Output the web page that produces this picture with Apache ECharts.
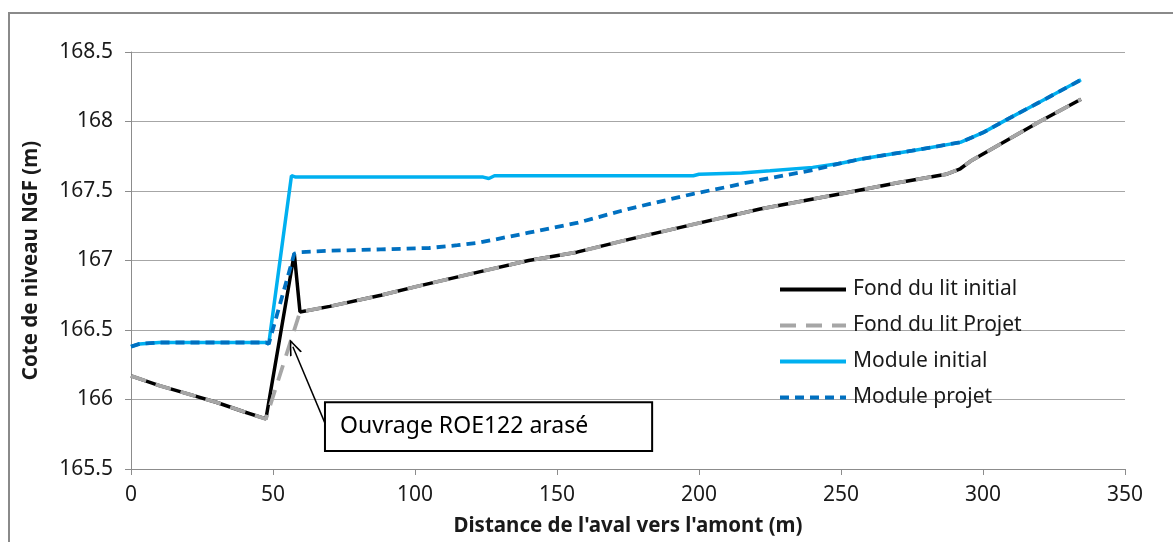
<!DOCTYPE html>
<html>
<head>
<meta charset="utf-8">
<script src="https://cdn.jsdelivr.net/npm/echarts@6/dist/echarts.min.js"></script>
<style>html,body{margin:0;padding:0;background:#fff}#c{width:1173px;height:542px}</style>
</head>
<body>
<div id="c"></div>
<script>
// ---- data ----
const seriesNames = ['Fond du lit initial', 'Fond du lit Projet', 'Module initial', 'Module projet'];
const fondInitial = [[0,166.17],[10,166.10],[20,166.04],[30,165.98],[40,165.91],[47.5,165.86],[57.5,167.05],[59.5,166.63],[70,166.67],[88,166.75],[100,166.81],[123,166.92],[140,167.00],[157,167.06],[175,167.15],[198,167.26],[221.5,167.37],[250,167.48],[270,167.56],[287,167.62],[292,167.66],[296,167.72],[308,167.86],[320,168.00],[334.5,168.16]];
const fondProjet = [[0,166.17],[10,166.10],[20,166.04],[30,165.98],[40,165.91],[47.5,165.86],[59.5,166.63],[70,166.67],[88,166.75],[100,166.81],[123,166.92],[140,167.00],[157,167.06],[175,167.15],[198,167.26],[221.5,167.37],[250,167.48],[270,167.56],[287,167.62],[292,167.66],[296,167.72],[308,167.86],[320,168.00],[334.5,168.16]];
const moduleInitial = [[0,166.38],[3,166.40],[10,166.41],[30,166.41],[47.5,166.41],[48.5,166.40],[56.5,167.61],[58,167.60],[100,167.60],[124,167.60],[126,167.59],[128,167.61],[170,167.61],[198,167.61],[200,167.62],[215,167.63],[225,167.645],[240,167.67],[250,167.70],[257,167.73],[275,167.79],[292,167.85],[300,167.92],[308,168.01],[320,168.14],[334.5,168.30]];
const moduleProjet = [[0,166.38],[3,166.40],[10,166.41],[30,166.41],[47.5,166.41],[48.5,166.40],[57.5,167.05],[60,167.06],[70,167.07],[88,167.08],[105,167.09],[115,167.11],[123,167.13],[140,167.20],[157,167.27],[175,167.37],[198,167.48],[210,167.53],[221.5,167.58],[240,167.65],[250,167.70],[257,167.73],[275,167.79],[292,167.85],[300,167.92],[308,168.01],[320,168.14],[334.5,168.30]];
const xTicks = {min: 0, max: 350, interval: 50};
const yTicks = {min: 165.5, max: 168.5, interval: 0.5};
const annotationText = 'Ouvrage ROE122 arasé';
const annotationBox = [[68.3, 165.98], [183.5, 165.63]];
const annotationArrow = [[68.3, 165.83], [57, 166.38]];

// ---- chart ----
const FONT = '"Noto Sans", sans-serif';
const chart = echarts.init(document.getElementById('c'), null, {renderer: 'canvas'});
const labelColor = '#1a1a1a';
chart.setOption({
  animation: false,
  backgroundColor: '#fff',
  textStyle: {fontFamily: FONT},
  graphic: [{
    type: 'rect', shape: {x: 9, y: 13, width: 1200, height: 600},
    style: {fill: null, stroke: '#8a8a8a', lineWidth: 2}, z: -1, silent: true
  }],
  grid: {left: 131, right: 48, top: 52, bottom: 73, containLabel: false, outerBoundsMode: 'none'},
  xAxis: {
    type: 'value', min: xTicks.min, max: xTicks.max, interval: xTicks.interval,
    name: "Distance de l'aval vers l'amont (m)", nameLocation: 'middle', nameGap: 47,
    nameTextStyle: {fontFamily: FONT, fontWeight: 'bold', fontSize: 20.5, color: labelColor},
    axisLine: {show: true, onZero: false, lineStyle: {color: '#8c8c8c', width: 1}},
    axisTick: {show: true, length: 6, lineStyle: {color: '#8c8c8c'}},
    axisLabel: {fontFamily: FONT, fontSize: 21, color: labelColor, margin: 16},
    splitLine: {show: false}
  },
  yAxis: {
    type: 'value', min: yTicks.min, max: yTicks.max, interval: yTicks.interval,
    name: 'Cote de niveau NGF (m)', nameLocation: 'middle', nameGap: 89,
    nameTextStyle: {fontFamily: FONT, fontWeight: 'bold', fontSize: 20.5, color: labelColor},
    axisLine: {show: true, lineStyle: {color: '#8c8c8c', width: 1}},
    axisTick: {show: true, length: 6, lineStyle: {color: '#8c8c8c'}},
    axisLabel: {fontFamily: FONT, fontSize: 21, color: labelColor, margin: 18},
    splitLine: {show: true, lineStyle: {color: '#a6a6a6', width: 1}}
  },
  legend: {
    orient: 'vertical', left: 778, top: 279, padding: 0, itemWidth: 66, itemHeight: 14, itemGap: 15,
    itemStyle: {opacity: 0},
    lineStyle: {width: 4},
    textStyle: {fontFamily: FONT, fontSize: 21, color: labelColor, padding: [0,0,0,2]},
    data: seriesNames
  },
  series: [
    {name: seriesNames[0], type: 'line', data: fondInitial, symbol: 'none', showSymbol: false,
     lineStyle: {color: '#000', width: 3.5}, itemStyle: {color: '#000'}, z: 2},
    {name: seriesNames[1], type: 'line', data: fondProjet, symbol: 'none', showSymbol: false,
     lineStyle: {color: '#a6a6a6', width: 3.8, type: [16, 10]}, itemStyle: {color: '#a6a6a6'}, z: 3},
    {name: seriesNames[2], type: 'line', data: moduleInitial, symbol: 'none', showSymbol: false,
     lineStyle: {color: '#00b0f0', width: 3.5}, itemStyle: {color: '#00b0f0'}, z: 4},
    {name: seriesNames[3], type: 'line', data: moduleProjet, symbol: 'none', showSymbol: false,
     lineStyle: {color: '#0070c0', width: 3.8, type: [9, 6]}, itemStyle: {color: '#0070c0'}, z: 5,
     markArea: {
       silent: true,
       itemStyle: {color: '#fff', borderColor: '#000', borderWidth: 2, opacity: 1},
       label: {show: true, position: 'insideLeft', distance: 16, fontFamily: FONT, fontSize: 23, color: '#000'},
       data: [[{name: annotationText, coord: annotationBox[0]}, {coord: annotationBox[1]}]]
     },
     markLine: {
       silent: true, animation: false,
       label: {show: false},
       lineStyle: {color: '#000', width: 1.5, type: 'solid'},
       symbol: ['none', 'path://M5,0 L10,13 L8.6,13 L5,3 L1.4,13 L0,13 Z'],
       symbolSize: [13, 16],
       data: [[{coord: annotationArrow[0]}, {coord: annotationArrow[1]}]]
     }
    }
  ]
});
</script>
</body>
</html>
